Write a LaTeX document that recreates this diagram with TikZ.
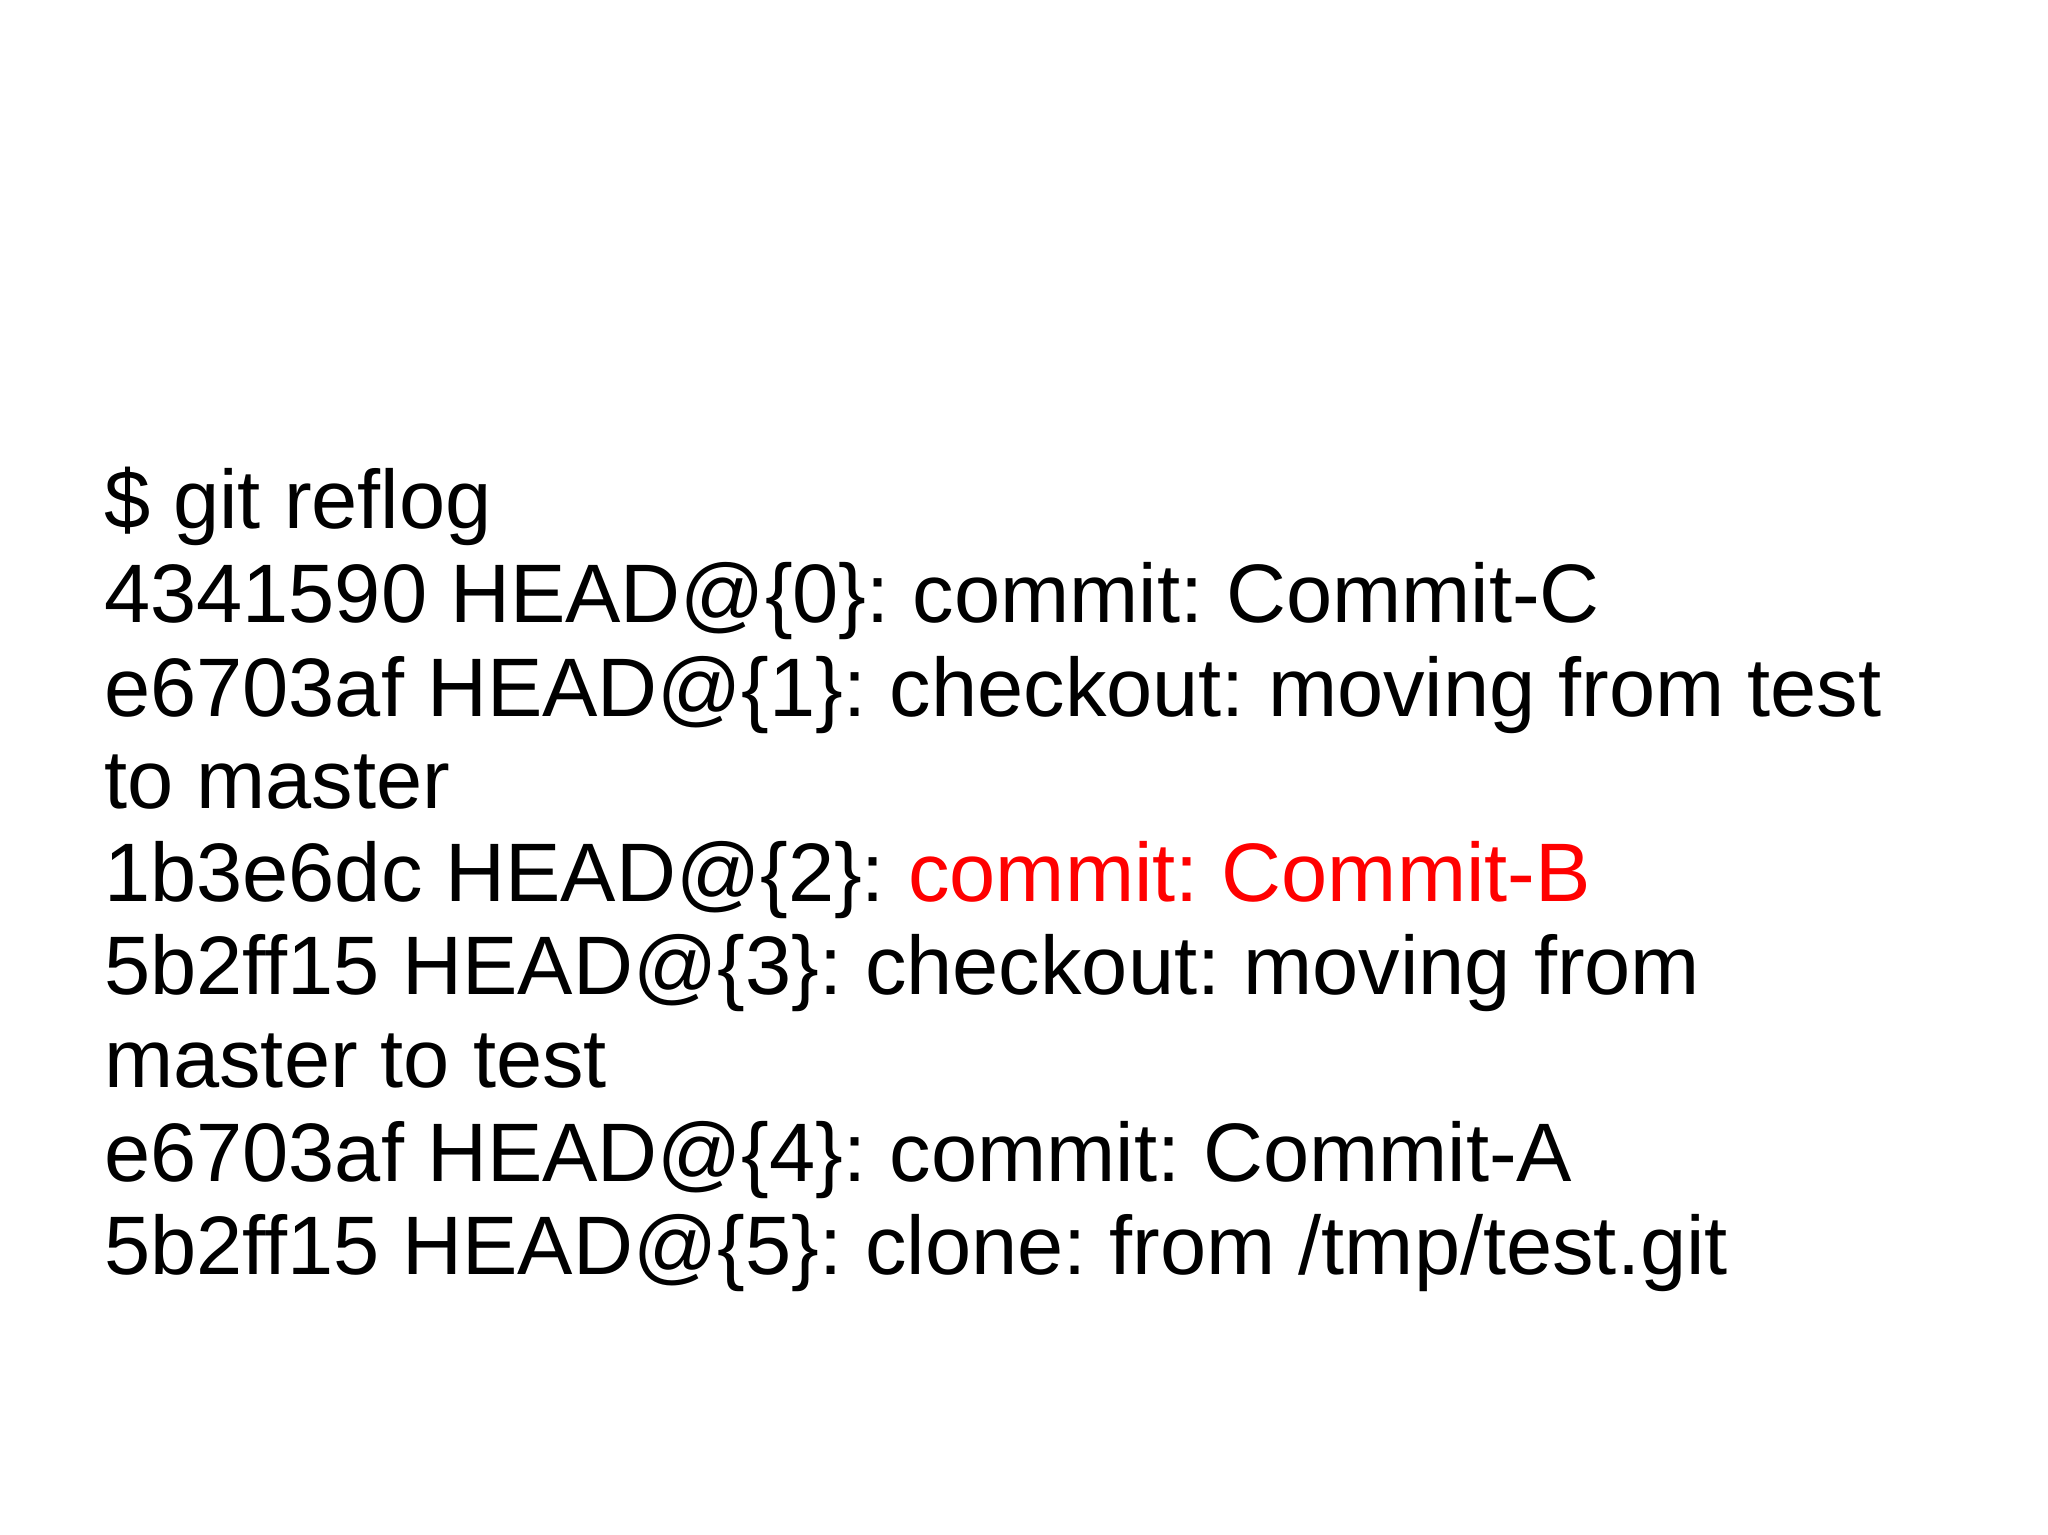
\documentclass[tikz,border=0pt]{standalone}
\usepackage{fontspec}
\setmainfont{Liberation Sans}
\begin{document}
\frenchspacing
\begin{tikzpicture}[x=1bp,y=1bp,
  ln/.style={anchor=base west,inner sep=0pt,font=\fontsize{83bp}{93bp}\selectfont\frenchspacing}]
\useasboundingbox (0,0) rectangle (2048,-1535);
\node[ln] (l0) at (104,-528.6) {\$ git reflog};
\node[ln] (l1) at (104,-622.4) {4341590 HEAD@\{0\}: commit: Commit-C};
\node[ln] (l2) at (104,-716.2) {e6703af HEAD@\{1\}: checkout: moving from test};
\node[ln] (l3) at (104,-808.0) {to master};
\node[ln] (l4) at (104,-901.8) {1b3e6dc HEAD@\{2\}: \textcolor{red}{commit: Commit-B}};
\node[ln] (l5) at (104,-994.6) {5b2ff15 HEAD@\{3\}: checkout: moving from};
\node[ln] (l6) at (104,-1087.4) {master to test};
\node[ln] (l7) at (104,-1181.2) {e6703af HEAD@\{4\}: commit: Commit-A};
\node[ln] (l8) at (104,-1274.0) {5b2ff15 HEAD@\{5\}: clone: from /tmp/test.git};
\end{tikzpicture}
\end{document}
